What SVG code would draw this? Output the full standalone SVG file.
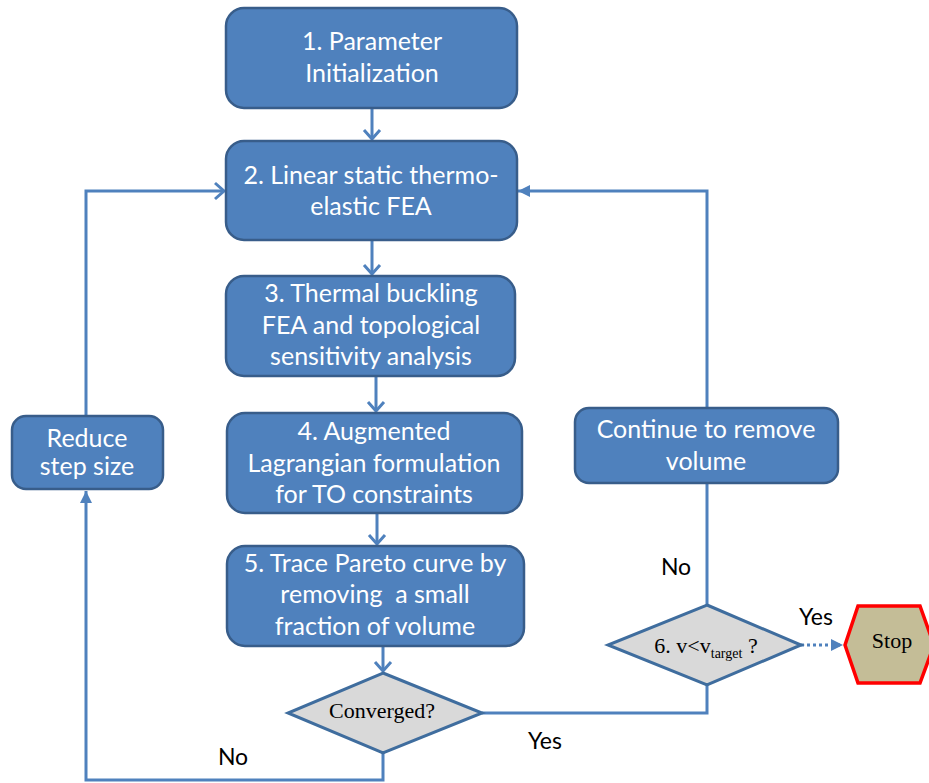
<svg xmlns="http://www.w3.org/2000/svg" width="929" height="783" viewBox="0 0 929 783">
<defs>
<style>
.box{fill:#4F81BD;stroke:#385D8A;stroke-width:2.5}
.bt{font-family:Lato,"Liberation Sans",sans-serif;font-size:25px;fill:#fff;text-anchor:middle}
.dia{fill:#D9D9D9;stroke:#3F6D9E;stroke-width:3}
.st{font-family:"Liberation Serif",serif;font-size:22px;fill:#000;text-anchor:middle}
.lbl{font-family:Lato,"Liberation Sans",sans-serif;font-size:23px;fill:#000;text-anchor:middle}
.c{fill:none;stroke:#4F81BD;stroke-width:3}
</style>
<marker id="chev" markerUnits="userSpaceOnUse" markerWidth="14" markerHeight="20" refX="11" refY="10" orient="auto" viewBox="0 0 14 20">
<path d="M2,2 L11,10 L2,18" fill="none" stroke="#4F81BD" stroke-width="3"/>
</marker>
<marker id="tri" markerUnits="userSpaceOnUse" markerWidth="14" markerHeight="14" refX="12" refY="7" orient="auto" viewBox="0 0 14 14">
<path d="M0,1 L12,7 L0,13 Z" fill="#4F81BD"/>
</marker>
</defs>
<g id="connectors">
<line class="c" x1="372" y1="108" x2="372" y2="139" marker-end="url(#chev)"/>
<line class="c" x1="372" y1="240" x2="372" y2="274" marker-end="url(#chev)"/>
<line class="c" x1="376" y1="376" x2="376" y2="411" marker-end="url(#chev)"/>
<line class="c" x1="377" y1="513" x2="377" y2="544" marker-end="url(#chev)"/>
<line class="c" x1="383" y1="646" x2="383" y2="671" marker-end="url(#chev)"/>
<polyline class="c" points="383,753 383,780 86,780 86,491" marker-end="url(#tri)"/>
<polyline class="c" points="86,416 86,191 224,191" marker-end="url(#chev)"/>
<polyline class="c" points="482,713 707,713 707,685"/>
<line class="c" x1="707" y1="605" x2="707" y2="483"/>
<polyline class="c" points="707,408 707,191 518,191" marker-end="url(#tri)"/>
<line x1="801" y1="645" x2="843" y2="645" stroke="#4F81BD" stroke-width="3" stroke-dasharray="3,3" marker-end="url(#tri)"/>
<text class="lbl" x="233" y="765">No</text>
<text class="lbl" x="545" y="749">Yes</text>
<text class="lbl" x="676" y="575">No</text>
<text class="lbl" x="816" y="625">Yes</text>
</g>
<g id="n1">
<rect class="box" x="226" y="8" width="291" height="100" rx="18"/>
<text class="bt" x="372" y="50">1. Parameter</text>
<text class="bt" x="372" y="82">Initialization</text>
</g>
<g id="n2">
<rect class="box" x="226" y="141" width="291" height="99" rx="18"/>
<text class="bt" x="371" y="184">2. Linear static thermo-</text>
<text class="bt" x="371" y="215">elastic FEA</text>
</g>
<g id="n3">
<rect class="box" x="226" y="276" width="289" height="100" rx="18"/>
<text class="bt" x="371" y="302">3. Thermal buckling</text>
<text class="bt" x="371" y="334">FEA and topological</text>
<text class="bt" x="371" y="365">sensitivity analysis</text>
</g>
<g id="n4">
<rect class="box" x="227" y="413" width="295" height="100" rx="18"/>
<text class="bt" x="374" y="440">4. Augmented</text>
<text class="bt" x="374" y="472">Lagrangian formulation</text>
<text class="bt" x="374" y="503">for TO constraints</text>
</g>
<g id="n5">
<rect class="box" x="227" y="546" width="297" height="100" rx="18"/>
<text class="bt" x="375" y="572">5. Trace Pareto curve by</text>
<text class="bt" x="375" y="603" xml:space="preserve">removing  a small</text>
<text class="bt" x="375" y="635">fraction of volume</text>
</g>
<g id="reduce">
<rect class="box" x="12" y="416" width="151" height="73" rx="14"/>
<text class="bt" x="87" y="447">Reduce</text>
<text class="bt" x="87" y="475">step size</text>
</g>
<g id="continue">
<rect class="box" x="575" y="408" width="263" height="75" rx="14"/>
<text class="bt" x="706" y="438">Continue to remove</text>
<text class="bt" x="706" y="470">volume</text>
</g>
<g id="converged">
<polygon class="dia" points="383,673 482,713 383,753 288,713"/>
<text class="st" x="382" y="718">Converged?</text>
</g>
<g id="d6">
<polygon class="dia" points="707,605 801,645 707,685 608,645"/>
<text class="st" x="706" y="653" text-anchor="middle">6. v&lt;v<tspan font-size="14" dy="5">target</tspan><tspan dy="-5"> ?</tspan></text>
</g>
<g id="stop">
<polygon points="845,645 858,606 920,606 934,645 920,683 858,683" fill="#C4BD97" stroke="#FF0000" stroke-width="3.5"/>
<text class="st" x="892" y="648">Stop</text>
</g>
</svg>
